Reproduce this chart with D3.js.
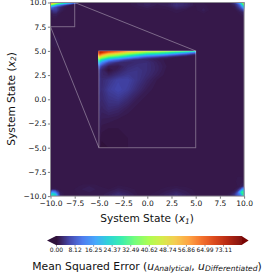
<!DOCTYPE html>
<html>
<head>
<meta charset="utf-8">
<script src="https://cdn.jsdelivr.net/npm/d3@7"></script>
<style>
  html, body { margin: 0; padding: 0; background: #fff; }
  svg { display: block; font-family: "DejaVu Sans", sans-serif; }
  text { fill: #111; }
</style>
</head>
<body>
<div id="chart"></div>
<script>
// axis ticks
const stateTicks = [-10, -7.5, -5, -2.5, 0, 2.5, 5, 7.5, 10];
const colorTicks = [0, 8.12, 16.25, 24.37, 32.49, 40.62, 48.74, 56.86, 64.99, 73.11];
const colorMax = 81.23;

// colormap stops
const colorStops = [0, 0.8, 5.7, 11.4, 17.1, 22.7, 28.4, 34.1, 40.6, 46.3, 52, 57.7, 63.4, 69, 74.7, 81.23];
const colorValues = ["#30123b", "#36184a", "#4145ab", "#4675ed", "#39a2fc", "#1bcfd4", "#24eca6", "#61fc6c", "#a4fc3b",
  "#d1e834", "#f3c63a", "#fe9b2d", "#f36315", "#d93806", "#b11901", "#7a0402"];

const floorLevel = 0.8;

// inner box, x -5..5, y 5..-5
const innerX = [-5, -4.7, -4, -3, -2, -1, 0, 1, 2, 3, 4, 5];
const innerY = [5, 4.85, 4.7, 4.5, 4.3, 4.1, 3.8, 3.4, 3, 2.5, 2, 1, 0, -1, -2, -3, -4, -5];
const innerZ = [
  [78, 76, 72, 66, 58, 52, 46, 44, 40, 36, 32, 26],
  [74, 70, 62, 56, 48, 42, 36, 34, 30, 25, 20, 12],
  [68, 62, 52, 46, 38, 32, 26, 24, 20, 14, 9, 4],
  [58, 50, 40, 34, 27, 20, 14, 11, 7, 4, 2, 0.8],
  [46, 38, 28, 22, 15, 9, 5, 3, 1.8, 1, 0.8, 0.8],
  [34, 26, 16, 10, 5, 3, 2.5, 1.6, 1, 0.8, 0.8, 0.8],
  [22, 14, 6, 3, 2.5, 3, 3.2, 2, 1, 0.8, 0.8, 0.8],
  [10, 5, 1.5, 1.5, 3, 3.6, 3.2, 2.2, 1.2, 0.8, 0.8, 0.8],
  [5, 2.5, 0.5, 2, 3.6, 4, 3.2, 2.2, 1, 0.8, 0.8, 0.8],
  [4, 2.5, 2, 3.5, 4.5, 4, 3, 1.8, 0.9, 0.8, 0.8, 0.8],
  [4, 3, 4, 5.5, 5.5, 4, 2.4, 1.2, 0.8, 0.8, 0.8, 0.8],
  [3.5, 3.2, 5, 6, 5, 3, 1.5, 0.9, 0.8, 0.8, 0.8, 0.8],
  [3, 2.8, 4, 4.5, 3, 1.5, 0.9, 0.8, 0.8, 0.8, 0.8, 0.8],
  [2.6, 2.2, 3, 2.5, 1.5, 0.9, 0.8, 0.8, 0.8, 0.8, 0.8, 0.8],
  [2.2, 1.6, 1.5, 1.2, 0.9, 0.8, 0.8, 0.8, 0.8, 0.8, 0.8, 0.8],
  [1.8, 1, 0.8, 0.8, 0.8, 0.8, 0.8, 0.8, 0.8, 0.8, 0.8, 0.8],
  [1.2, 0.5, 0.6, 0.7, 0.8, 0.8, 0.8, 0.8, 0.8, 0.8, 0.8, 0.8],
  [0.6, 0.2, 0.4, 0.6, 0.8, 0.8, 0.8, 0.8, 0.8, 0.8, 0.8, 0.8]
];

// top left corner
const tlX = [-10, -9.7, -9.4, -9, -8.5, -8, -7.5, -7];
const tlY = [10, 9.85, 9.7, 9.5, 9.2, 8.8, 8.3, 8];
const tlZ = [
  [62, 55, 46, 38, 30, 24, 14, 0.8],
  [48, 40, 30, 22, 14, 7, 2, 0.8],
  [30, 22, 14, 8, 3, 1, 0.8, 0.8],
  [12, 9, 6, 3, 1.2, 0.8, 0.8, 0.8],
  [3, 5, 5, 2, 1, 0.8, 0.8, 0.8],
  [1.2, 1.8, 1.8, 1, 0.8, 0.8, 0.8, 0.8],
  [0.8, 0.9, 0.9, 0.8, 0.8, 0.8, 0.8, 0.8],
  [0.8, 0.8, 0.8, 0.8, 0.8, 0.8, 0.8, 0.8]
];

// top right corner
const trX = [8, 8.5, 9, 9.3, 9.6, 9.8, 10];
const trY = [10, 9.8, 9.6, 9.3, 9, 8.5, 8];
const trZ = [
  [0.8, 1, 5, 12, 22, 34, 46],
  [0.8, 1, 2.5, 5, 12, 24, 38],
  [0.8, 0.9, 1.5, 4, 8, 16, 26],
  [0.8, 0.8, 1, 2, 4, 6, 10],
  [0.8, 0.8, 0.8, 1, 1.5, 2, 3],
  [0.8, 0.8, 0.8, 0.8, 0.9, 1, 1.2],
  [0.8, 0.8, 0.8, 0.8, 0.8, 0.8, 0.8]
];

// bottom left corner
const blX = [-10, -9.8, -9.5, -9.2, -9, -8.5];
const blY = [-9, -9.3, -9.6, -9.8, -10];
const blZ = [
  [0.8, 0.8, 0.8, 0.8, 0.8, 0.8],
  [1, 1.5, 1.5, 1, 0.9, 0.8],
  [8, 16, 12, 5, 1.5, 0.8],
  [18, 26, 22, 8, 2, 0.8],
  [20, 28, 24, 9, 2, 0.8]
];

// bottom right corner
const brX = [8, 8.5, 9, 9.3, 9.6, 9.8, 10];
const brY = [-8, -8.5, -9, -9.3, -9.6, -9.8, -10];
const brZ = [
  [0.8, 0.8, 0.9, 1, 1.2, 1, 0.8],
  [0.8, 0.8, 0.9, 1.1, 1.2, 1.2, 1],
  [0.8, 0.8, 0.8, 1, 1.5, 2, 3],
  [0.8, 0.8, 1, 2, 6, 14, 18],
  [0.8, 1, 2, 6, 20, 32, 28],
  [0.8, 1.2, 4, 9, 14, 26, 34],
  [0.8, 1.2, 3, 7, 10, 16, 30]
];

// faint patches along the top and bottom edges
const topX = [-2, -1, 0, 1, 2, 3, 4, 5, 5.8, 6.5, 7.5];
const topY = [10, 9.7, 9.2, 8.7];
const topZ = [
  [0.8, 1.5, 2, 1.5, 1.5, 3, 2.5, 1, 1, 0.8, 0.8],
  [0.8, 1.4, 2, 1.3, 1.6, 3.2, 2.4, 1, 1.2, 0.8, 0.8],
  [0.8, 0.8, 1, 0.8, 0.9, 1.4, 1, 0.9, 1.6, 0.9, 0.8],
  [0.8, 0.8, 0.8, 0.8, 0.8, 0.8, 0.8, 0.8, 0.8, 0.8, 0.8]
];
const bottomX = [-8, -7, -6, -5, -4, -3, -2, -1, 0, 1, 2, 3, 4, 5, 6, 7];
const bottomY = [-8.8, -9.3, -9.8, -10];
const bottomZ = [
  [0.8, 0.9, 1.2, 0.9, 0.8, 0.9, 0.8, 0.8, 0.8, 0.8, 0.8, 0.8, 0.8, 0.8, 0.8, 0.8],
  [0.8, 1.3, 1.8, 1.2, 1, 1.6, 1.2, 0.9, 0.8, 0.9, 1.2, 1.6, 1.2, 0.9, 0.8, 0.8],
  [0.8, 1, 1.2, 1, 1.8, 3, 2, 1, 0.9, 1.2, 2, 2.8, 1.8, 1, 0.8, 0.8],
  [0.8, 1, 1, 1, 1.8, 3, 2, 1, 0.9, 1.2, 2, 2.8, 1.8, 1, 0.8, 0.8]
];
const leftX = [-10, -9.7, -9.4, -9, -8.5];
const leftY = [6.8, 6.2, 5.6, 5];
const leftZ = [
  [0.8, 0.8, 0.8, 0.8, 0.8],
  [0.9, 1.2, 1.5, 1, 0.8],
  [0.9, 1.1, 1.3, 0.9, 0.8],
  [0.8, 0.8, 0.8, 0.8, 0.8]
];

const width = 273;
const height = 273;
const margin = { top: 2.5, left: 50.5 };
const plotSize = 193.6;

const svg = d3.select("#chart")
  .append("svg")
  .attr("width", width)
  .attr("height", height);

const x = d3.scaleLinear().domain([-10, 10]).range([margin.left, margin.left + plotSize]);
const y = d3.scaleLinear().domain([-10, 10]).range([margin.top + plotSize, margin.top]);
const color = d3.scaleLinear().domain(colorStops).range(colorValues).clamp(true);

const defs = svg.append("defs");
defs.append("clipPath").attr("id", "plot-clip")
  .append("rect")
  .attr("x", x(-10)).attr("y", y(10))
  .attr("width", plotSize).attr("height", plotSize);

const plot = svg.append("g").attr("clip-path", "url(#plot-clip)");

plot.append("rect")
  .attr("x", x(-10)).attr("y", y(10))
  .attr("width", plotSize).attr("height", plotSize)
  .attr("fill", color(floorLevel));

// one filled contour stack per patch; grid spacing is uneven so map through piecewise scales
function drawPatch(xs, ys, zs, minLevel) {
  const toX = d3.scaleLinear().domain(xs.map((_, i) => i + 0.5)).range(xs.map(x)).clamp(true);
  const toY = d3.scaleLinear().domain(ys.map((_, i) => i + 0.5)).range(ys.map(y)).clamp(true);
  const path = d3.geoPath(d3.geoTransform({
    point(px, py) { this.stream.point(toX(px), toY(py)); }
  }));
  const levels = d3.range(minLevel, colorMax, 0.4);
  const contours = d3.contours()
    .size([xs.length, ys.length])
    .smooth(true)
    .thresholds(levels)(zs.flat());
  plot.append("g")
    .selectAll("path")
    .data(contours.filter(c => c.coordinates.length))
    .join("path")
    .attr("d", path)
    .attr("fill", d => color(d.value));
}

drawPatch(topX, topY, topZ, 1);
drawPatch(bottomX, bottomY, bottomZ, 1);
drawPatch(leftX, leftY, leftZ, 1);
drawPatch(tlX, tlY, tlZ, 1);
drawPatch(trX, trY, trZ, 1);
drawPatch(blX, blY, blZ, 1);
drawPatch(brX, brY, brZ, 1);
drawPatch(innerX, innerY, innerZ, 0);

// zoom boxes and connector lines
const zoomStroke = "rgba(255,255,255,0.35)";
const overlay = svg.append("g").attr("fill", "none").attr("stroke", zoomStroke).attr("stroke-width", 1);
overlay.append("rect")
  .attr("x", x(-5)).attr("y", y(5))
  .attr("width", x(5) - x(-5)).attr("height", y(-5) - y(5));
overlay.append("rect")
  .attr("x", x(-10)).attr("y", y(10))
  .attr("width", x(-7.5) - x(-10)).attr("height", y(7.5) - y(10));
overlay.append("line")
  .attr("x1", x(-7.5)).attr("y1", y(10)).attr("x2", x(5)).attr("y2", y(5));
overlay.append("line")
  .attr("x1", x(-10)).attr("y1", y(7.5)).attr("x2", x(-5)).attr("y2", y(-5));

// axes
const xAxis = svg.append("g")
  .attr("transform", `translate(0,${y(-10)})`)
  .call(d3.axisBottom(x).tickValues(stateTicks).tickFormat(d3.format(".1f")).tickSize(2.6).tickPadding(1.5));
const yAxis = svg.append("g")
  .attr("transform", `translate(${x(-10)},0)`)
  .call(d3.axisLeft(y).tickValues(stateTicks).tickFormat(d3.format(".1f")).tickSize(2.6).tickPadding(1.5));
[xAxis, yAxis].forEach(a => {
  a.selectAll("text").attr("font-size", 7.5).attr("font-family", '"DejaVu Sans"').attr("fill", "#111");
  a.selectAll(".tick line").attr("stroke", "#222").attr("stroke-width", 0.6);
  a.select(".domain").remove();
});

svg.append("rect")
  .attr("x", x(-10)).attr("y", y(10))
  .attr("width", plotSize).attr("height", plotSize)
  .attr("fill", "none")
  .attr("stroke", "#8c8892")
  .attr("stroke-width", 1);

// labels: subscript tspan drops the baseline, the tspan after it brings it back
const subDrop = 1.6;
function sub(label, base, subText) {
  label.append("tspan").attr("font-style", "italic").text(base);
  label.append("tspan").attr("font-style", "italic").attr("font-size", "0.7em").attr("dy", subDrop).text(subText);
}
function afterSub(label, text) {
  label.append("tspan").attr("dy", -subDrop).text(text);
}

const xLabel = svg.append("text").attr("x", 147).attr("y", 222).attr("text-anchor", "middle").attr("font-size", 10.6);
xLabel.append("tspan").text("System State (");
sub(xLabel, "x", "1");
afterSub(xLabel, ")");

const yLabel = svg.append("text")
  .attr("transform", "translate(14.5,99) rotate(-90)")
  .attr("text-anchor", "middle").attr("font-size", 10.6);
yLabel.append("tspan").text("System State (");
sub(yLabel, "x", "2");
afterSub(yLabel, ")");

// colorbar
const cb = d3.scaleLinear().domain([0, colorMax]).range([56, 241.6]);
const cbTop = 236, cbBottom = 245;
const cbG = svg.append("g");
cbG.selectAll("rect")
  .data(d3.range(0, colorMax, colorMax / 185))
  .join("rect")
  .attr("x", d => cb(d))
  .attr("y", cbTop)
  .attr("width", 1.3)
  .attr("height", cbBottom - cbTop)
  .attr("fill", d => color(d));
cbG.append("path")
  .attr("d", d3.line()([[cb(0), cbTop], [cb(0) - 9, (cbTop + cbBottom) / 2], [cb(0), cbBottom]]))
  .attr("fill", color(0));
cbG.append("path")
  .attr("d", d3.line()([[cb(colorMax), cbTop], [cb(colorMax) + 7, (cbTop + cbBottom) / 2], [cb(colorMax), cbBottom]]))
  .attr("fill", color(colorMax));

const cbAxis = svg.append("g")
  .attr("transform", `translate(0,${cbBottom})`)
  .call(d3.axisBottom(cb).tickValues(colorTicks).tickFormat(d3.format(".2f")).tickSize(1.6).tickPadding(1));
cbAxis.selectAll("text").attr("font-size", 6).attr("font-family", '"DejaVu Sans"').attr("fill", "#111");
cbAxis.selectAll(".tick line").attr("stroke", "#222").attr("stroke-width", 0.5);
cbAxis.select(".domain").remove();

const cbLabel = svg.append("text").attr("x", 147).attr("y", 269.5).attr("text-anchor", "middle").attr("font-size", 10.8);
cbLabel.append("tspan").text("Mean Squared Error (");
sub(cbLabel, "u", "Analytical");
afterSub(cbLabel, ", ");
sub(cbLabel, "u", "Differentiated");
afterSub(cbLabel, ")");
</script>
</body>
</html>
